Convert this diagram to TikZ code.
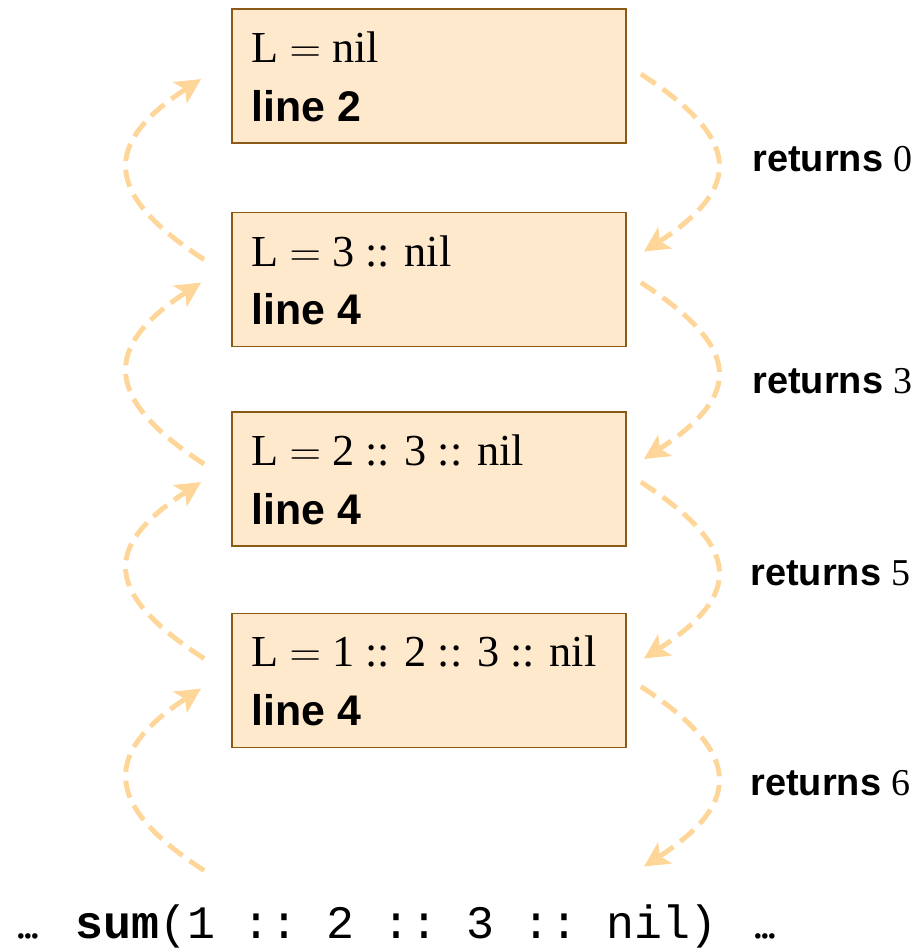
\documentclass[tikz,border=0pt]{standalone}
\usepackage{fontspec}
\setmainfont{Liberation Serif}
\setsansfont{Liberation Sans}
\setmonofont{Liberation Mono}
\usetikzlibrary{arrows.meta,positioning}
\definecolor{framefill}{RGB}{255,233,204}
\definecolor{framebrown}{RGB}{138,90,22}
\definecolor{callpeach}{RGB}{255,214,153}
\tikzset{
  framebox/.style={rectangle,draw=framebrown,line width=1.1pt,fill=framefill,minimum width=7.88cm,minimum height=2.68cm,inner sep=0pt},
  envtext/.style={anchor=base west,inner sep=0pt,font=\fontsize{25.2}{30}\selectfont},
  linetext/.style={anchor=base west,inner sep=0pt,font=\fontsize{24.4}{30}\selectfont\sffamily\bfseries},
  rettext/.style={anchor=base west,inner sep=0pt,font=\fontsize{21.6}{26}\selectfont\sffamily\bfseries},
  calltext/.style={anchor=base west,inner sep=0pt,font=\fontsize{26.5}{30}\selectfont},
  callarrow/.style={-{Stealth[length=5mm,width=5mm,inset=1.2mm]},draw=callpeach,line width=2.8pt,dash pattern=on 10pt off 5pt}
}
\newcommand{\eqsign}{$=$}
\newcommand{\tightdots}{.\kern-2.5pt.\kern-2.5pt.}

\begin{document}
\begin{tikzpicture}[x=0.02cm,y=-0.02cm]
  \useasboundingbox (0,0) rectangle (915,949);
  % stack frames
  \node[framebox] (b1) at (429,76) {};
  \node[framebox] (b2) at (429,279.5) {};
  \node[framebox] (b3) at (429,479) {};
  \node[framebox] (b4) at (429,680.5) {};
  \node[envtext] (e1) at ([shift={(20,54)}]b1.north west) {L \eqsign{} nil};
  \node[linetext] (n1) at ([shift={(20,113)}]b1.north west) {line 2};
  \node[envtext] (e2) at ([shift={(20,55)}]b2.north west) {L \eqsign{} 3 :: nil};
  \node[linetext] (n2) at ([shift={(20,113)}]b2.north west) {line 4};
  \node[envtext] (e3) at ([shift={(20,54)}]b3.north west) {L \eqsign{} 2 :: 3 :: nil};
  \node[linetext] (n3) at ([shift={(20,113)}]b3.north west) {line 4};
  \node[envtext] (e4) at ([shift={(20,54)}]b4.north west) {L \eqsign{} 1 :: 2 :: 3 :: nil};
  \node[linetext] (n4) at ([shift={(20,113)}]b4.north west) {line 4};
  % return values
  \node[rettext] (r1) at (752,172) {returns {\rmfamily\mdseries 0}};
  \node[rettext] (r2) at (752,393) {returns {\rmfamily\mdseries 3}};
  \node[rettext] (r3) at (750,585) {returns {\rmfamily\mdseries 5}};
  \node[rettext] (r4) at (750,795) {returns {\rmfamily\mdseries 6}};
  % the call
  \node[calltext] (dotsl) at (15,938) {\tightdots};
  \node[calltext] (call) at (75,938) {\ttfamily\textbf{sum}(1 :: 2 :: 3 :: nil)};
  \node[calltext] (dotsr) at (752,938) {\tightdots};
  % arrow ends
  \coordinate (u1s) at ([shift={(-27,48)}]b2.north west);
  \coordinate (u1e) at ([shift={(-30,71)}]b1.north west);
  \coordinate (u2s) at ([shift={(-27,53)}]b3.north west);
  \coordinate (u2e) at ([shift={(-30,71)}]b2.north west);
  \coordinate (u3s) at ([shift={(-27,46)}]b4.north west);
  \coordinate (u3e) at ([shift={(-30,71)}]b3.north west);
  \coordinate (u4s) at ([shift={(-27,258)}]b4.north west);
  \coordinate (u4e) at ([shift={(-30,76)}]b4.north west);
  \coordinate (d1s) at ([shift={(14,66)}]b1.north east);
  \coordinate (d1e) at ([shift={(17,40)}]b2.north east);
  \coordinate (d2s) at ([shift={(14,71)}]b2.north east);
  \coordinate (d2e) at ([shift={(17,48)}]b3.north east);
  \coordinate (d3s) at ([shift={(14,71)}]b3.north east);
  \coordinate (d3e) at ([shift={(17,46)}]b4.north east);
  \coordinate (d4s) at ([shift={(14,74)}]b4.north east);
  \coordinate (d4e) at ([shift={(17,254)}]b4.north east);
  % calls going up
  \draw[callarrow] (u1s) .. controls +(-100,-65) and +(-100,65) .. (u1e);
  \draw[callarrow] (u2s) .. controls +(-100,-65) and +(-100,65) .. (u2e);
  \draw[callarrow] (u3s) .. controls +(-100,-65) and +(-100,65) .. (u3e);
  \draw[callarrow] (u4s) .. controls +(-100,-65) and +(-100,65) .. (u4e);
  % returns going down
  \draw[callarrow] (d1s) .. controls +(100,65) and +(100,-65) .. (d1e);
  \draw[callarrow] (d2s) .. controls +(100,65) and +(100,-65) .. (d2e);
  \draw[callarrow] (d3s) .. controls +(100,65) and +(100,-65) .. (d3e);
  \draw[callarrow] (d4s) .. controls +(100,65) and +(100,-65) .. (d4e);
\end{tikzpicture}
\end{document}
